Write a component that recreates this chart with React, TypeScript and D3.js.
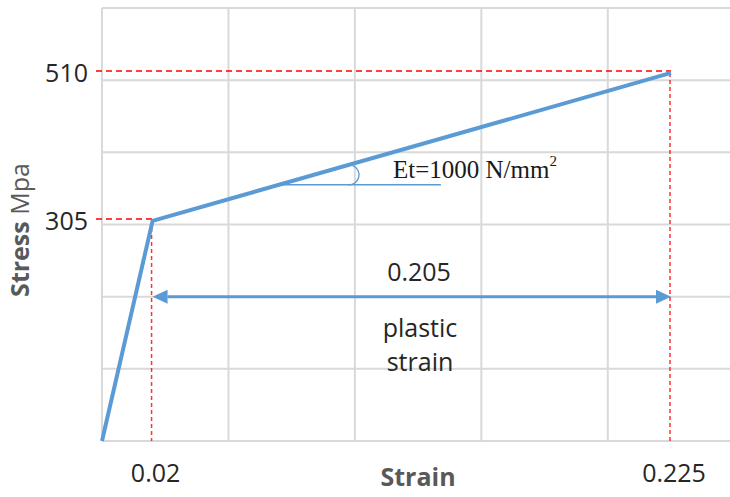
import React from "react";
import * as d3 from "d3";

// ---- data ----
const strainPts = [0, 0.02, 0.225];
const stressPts = [0, 305, 510];
const gridStrain = [0, 0.05, 0.1, 0.15, 0.2];
const gridStress = [0, 100, 200, 300, 400, 500, 600];
const xTickVals = [0.02, 0.225];
const xTickLabels = ["0.02", "0.225"];
const yTickVals = [305, 510];
const yTickLabels = ["305", "510"];
const plasticStrain = "0.205";
const arrowLevel = [200];
const etLevel = [355];
const etEndStrain = [0.134];

const W = 730;
const H = 497;
const BLUE = "#5B9BD5";
const RED = "#FF0000";
const GRID = "#D9D9D9";
const FONT = "'Open Sans', sans-serif";

export default function App() {
  const x = d3.scaleLinear().domain([0, 0.225]).range([102, 671]);
  const y = d3.scaleLinear().domain([0, 600]).range([441, 8]);

  const pts: [number, number][] = strainPts.map((s, i) => [s, stressPts[i]]);
  const line = d3
    .line<[number, number]>()
    .x((d) => x(d[0]))
    .y((d) => y(d[1]));

  // arrow
  const ay = y(arrowLevel[0]);
  const ax1 = x(strainPts[1]);
  const ax2 = x(strainPts[2]);
  const aL = 15;
  const aH = 7;

  // Et tangent line
  const ey = y(etLevel[0]);
  // intersection of plastic segment with etLevel
  const t = (etLevel[0] - stressPts[1]) / (stressPts[2] - stressPts[1]);
  const eStrain = strainPts[1] + t * (strainPts[2] - strainPts[1]);
  const ex1 = x(eStrain) + 3;
  const ex2 = x(etEndStrain[0]);
  const cx = x(eStrain) + 70;
  const cy = ey - 10;
  const r = 10;
  const a1 = (-68 * Math.PI) / 180;
  const a2 = (96 * Math.PI) / 180;
  const arcPath = `M ${cx + r * Math.cos(a1)} ${cy + r * Math.sin(a1)} A ${r} ${r} 0 0 1 ${
    cx + r * Math.cos(a2)
  } ${cy + r * Math.sin(a2)}`;

  const x0 = x(0);
  const yTop = y(600);
  const yBot = y(0);

  return (
    <svg
      width={W}
      height={H}
      style={{ position: "absolute", left: 0, top: 0, background: "#fff" }}
    >
      {/* grid */}
      {gridStress.map((v) => (
        <line key={"gy" + v} x1={x0} x2={W} y1={y(v)} y2={y(v)} stroke={GRID} strokeWidth={2} />
      ))}
      {gridStrain.map((v) => (
        <line key={"gx" + v} x1={x(v)} x2={x(v)} y1={yTop} y2={yBot} stroke={GRID} strokeWidth={2} />
      ))}

      {/* red dashed guides */}
      {yTickVals.map((v, i) => (
        <line
          key={"rh" + v}
          x1={96}
          x2={x(xTickVals[i])}
          y1={y(v) - 2}
          y2={y(v) - 2}
          stroke={RED}
          strokeWidth={1.5}
          strokeDasharray="6,4"
        />
      ))}
      {xTickVals.map((v, i) => (
        <line
          key={"rv" + v}
          x1={x(v) - 1}
          x2={x(v) - 1}
          y1={y(yTickVals[i])}
          y2={yBot}
          stroke={RED}
          strokeWidth={1.5}
          strokeDasharray="4,3"
          opacity={0.8}
        />
      ))}

      {/* stress-strain line */}
      <path d={line(pts) || ""} fill="none" stroke={BLUE} strokeWidth={4} strokeLinejoin="round" />

      {/* double arrow */}
      <line x1={ax1 + aL} x2={ax2 - aL} y1={ay} y2={ay} stroke={BLUE} strokeWidth={3} />
      <polygon points={`${ax1},${ay} ${ax1 + aL},${ay - aH} ${ax1 + aL},${ay + aH}`} fill={BLUE} />
      <polygon points={`${ax2},${ay} ${ax2 - aL},${ay - aH} ${ax2 - aL},${ay + aH}`} fill={BLUE} />

      {/* Et annotation */}
      <line x1={ex1} x2={ex2} y1={ey} y2={ey} stroke={BLUE} strokeWidth={1.5} />
      <path d={arcPath} fill="none" stroke={BLUE} strokeWidth={1.3} />
      <text x={393} y={178} fontFamily="'Liberation Serif', serif" fontSize={25} fill="#1a1a1a">
        Et=1000 N/mm
        <tspan fontSize={15} dy={-12}>
          2
        </tspan>
      </text>

      {/* y tick labels */}
      {yTickVals.map((v, i) => (
        <text
          key={"yt" + v}
          x={88}
          y={y(v) + 9}
          textAnchor="end"
          fontFamily={FONT}
          fontSize={25}
          fill="#262626"
        >
          {yTickLabels[i]}
        </text>
      ))}

      {/* x tick labels */}
      {xTickVals.map((v, i) => (
        <text
          key={"xt" + v}
          x={x(v) + 3}
          y={482}
          textAnchor="middle"
          fontFamily={FONT}
          fontSize={25}
          fill="#262626"
        >
          {xTickLabels[i]}
        </text>
      ))}

      {/* axis titles */}
      <text x={418} y={486} textAnchor="middle" fontFamily={FONT} fontSize={25} fontWeight="bold" fill="#595959">
        Strain
      </text>
      <text
        transform={`translate(29, 230) rotate(-90)`}
        textAnchor="middle"
        fontFamily={FONT}
        fontSize={25}
        fill="#595959"
      >
        <tspan fontWeight="bold">Stress</tspan> Mpa
      </text>

      {/* plastic strain labels */}
      <text x={419} y={281} textAnchor="middle" fontFamily={FONT} fontSize={25} fill="#262626">
        {plasticStrain}
      </text>
      <text x={420} y={337} textAnchor="middle" fontFamily={FONT} fontSize={25} fill="#262626">
        plastic
      </text>
      <text x={420} y={371} textAnchor="middle" fontFamily={FONT} fontSize={25} fill="#262626">
        strain
      </text>
    </svg>
  );
}
